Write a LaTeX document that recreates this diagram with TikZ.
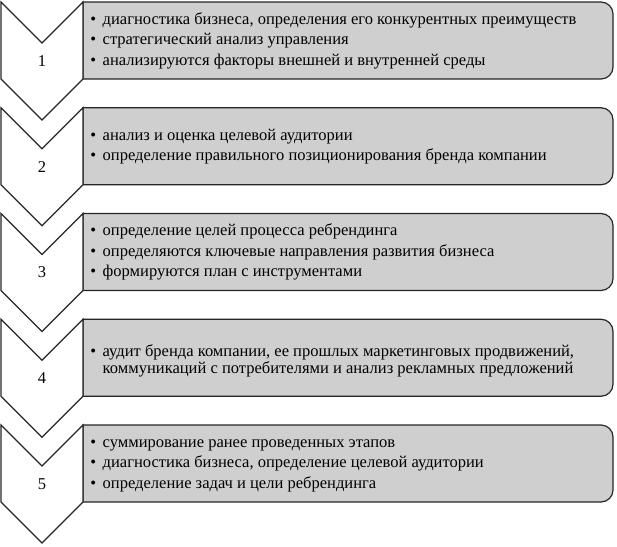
\documentclass[tikz,border=0pt]{standalone}
\usepackage{fontspec}
\setmainfont{Liberation Serif}
\begin{document}
\begin{tikzpicture}[x=0.75pt,y=-0.75pt,
  chev/.style={draw=black!85,line width=0.9pt,fill=white,line join=miter},
  stepbox/.style={draw=black!85,line width=0.9pt,fill=black!19},
  num/.style={font=\fontsize{12.4}{14}\selectfont,inner sep=0pt},
  txt/.style={font=\fontsize{12.4}{13.9}\selectfont,inner sep=0pt,anchor=west,align=left}]
\useasboundingbox (0,0) rectangle (617,546);
\newcommand\bl{\textbullet}
\foreach \i/\y in {1/2,2/107.75,3/213.5,4/319.25,5/425}{
  \draw[stepbox] (83,\y) -- (601,\y) arc[start angle=-90,end angle=0,radius=12] -- (613,\y+65)
     arc[start angle=0,end angle=90,radius=12] -- (83,\y+77) -- cycle;
  \draw[chev] (1,\y) -- (42,\y+41) -- (83,\y) -- (83,\y+77) -- (42,\y+118) -- (1,\y+77) -- cycle;
  \node[num] (n\i) at (42,\y+59) {\i};
}
\node[txt] (t1) at (90,2+39) {\begin{tabular}{@{}l@{\hspace{5pt}}l@{}}
\bl & диагностика бизнеса, определения его конкурентных преимуществ\\[1.5pt]
\bl & стратегический анализ управления\\[1.5pt]
\bl & анализируются факторы внешней и внутренней среды\end{tabular}};
\node[txt] (t2) at (90,107.75+39) {\begin{tabular}{@{}l@{\hspace{5pt}}l@{}}
\bl & анализ и оценка целевой аудитории\\[1.5pt]
\bl & определение правильного позиционирования бренда компании\end{tabular}};
\node[txt] (t3) at (90,213.5+39) {\begin{tabular}{@{}l@{\hspace{5pt}}l@{}}
\bl & определение целей процесса ребрендинга\\[1.5pt]
\bl & определяются ключевые направления развития бизнеса\\[1.5pt]
\bl & формируются план с инструментами\end{tabular}};
\node[txt] (t4) at (90,319.25+42) {\begin{tabular}{@{}l@{\hspace{5pt}}l@{}}
\bl & аудит бренда компании, ее прошлых маркетинговых продвижений,\\[-0.5pt]
 & коммуникаций с потребителями и анализ рекламных предложений\end{tabular}};
\node[txt] (t5) at (90,425+39) {\begin{tabular}{@{}l@{\hspace{5pt}}l@{}}
\bl & суммирование ранее проведенных этапов\\[1.5pt]
\bl & диагностика бизнеса, определение целевой аудитории\\[1.5pt]
\bl & определение задач и цели ребрендинга\end{tabular}};
\end{tikzpicture}
\end{document}
